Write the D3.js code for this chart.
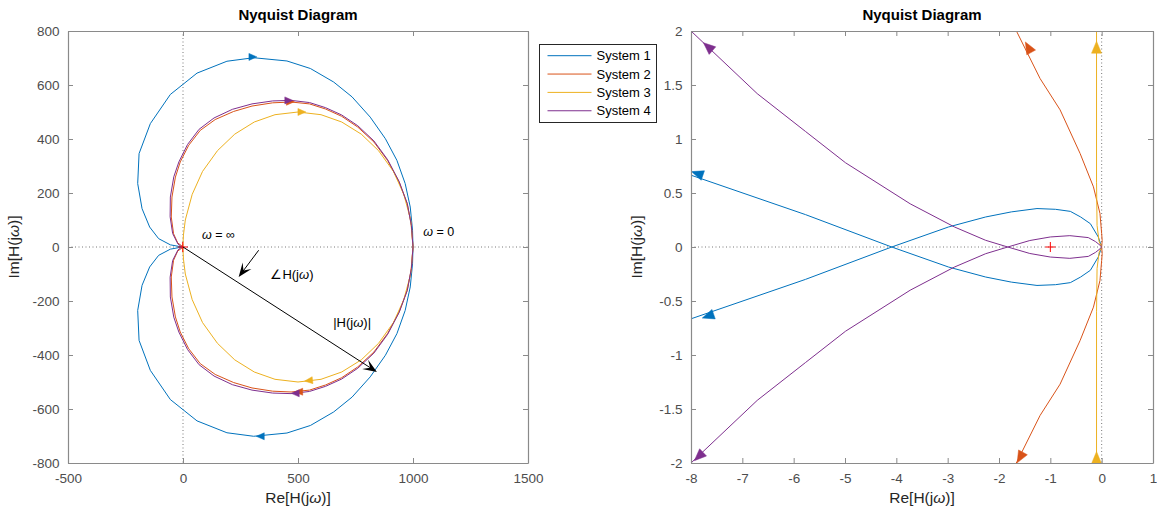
<!DOCTYPE html>
<html>
<head>
<meta charset="utf-8">
<script src="https://cdn.jsdelivr.net/npm/d3@7"></script>
<style>
  body { margin: 0; background: #fff; }
  svg text { font-family: "Liberation Sans", Arial, Helvetica, sans-serif; }
</style>
</head>
<body>
<div id="chart"></div>
<script>
// legend names
var systemNames = ["System 1", "System 2", "System 3", "System 4"];

// one branch of every Nyquist curve [Re, Im]
// (the other branch is its complex conjugate, drawn mirrored)
var system1 = [[0, 0], [-0.066, -0.093], [-0.22, -0.216], [-0.41, -0.278], [-0.61, -0.33], [-0.9, -0.349],
  [-1.26, -0.356], [-1.76, -0.325], [-2.26, -0.278], [-2.98, -0.186], [-4.09, 0], [-5.77, 0.30], [-8, 0.665],
  [-55, 8], [-106, 31], [-145, 74], [-178, 142], [-197, 235], [-191, 346], [-142, 457], [-55, 565], [61, 644],
  [191, 688], [307, 701], [452, 689], [554, 661], [655, 611], [735, 556], [814, 481], [880, 401], [930, 321],
  [966, 235], [988, 148], [998, 62], [1000, 0]];
var system2 = [[0, 0], [0.01, 0.06], [0, 0.124], [-0.033, 0.31], [-0.16, 0.557], [-0.42, 0.866], [-0.81, 1.27],
  [-1.2, 1.56], [-1.65, 1.99], [-23, 15], [-41, 49], [-51, 111], [-48, 185], [-33, 259], [-12, 315], [25, 377],
  [75, 432], [140, 472], [220, 502], [300, 522], [390, 534], [470, 537], [550, 530], [620, 511], [690, 484],
  [760, 444], [830, 389], [890, 320], [940, 240], [975, 160], [993, 80], [1000, 0]];
var system3 = [[0, 0], [-0.05, 0.05], [-0.09, 0.2], [-0.1, 0.6], [-0.1, 2.5], [-0.05, 5], [0, 10], [0.4, 20],
  [2, 45], [10, 100], [40, 195], [85, 280], [150, 357], [225, 418], [310, 463], [400, 490], [500, 500],
  [600, 490], [690, 463], [775, 418], [850, 357], [915, 280], [960, 195], [990, 100], [1000, 0]];
var system4 = [[0, 0], [-0.03, -0.016], [-0.12, -0.05], [-0.26, -0.087], [-0.62, -0.105], [-1.0, -0.093],
  [-1.4, -0.06], [-1.83, 0], [-2.26, 0.062], [-2.87, 0.186], [-3.73, 0.40], [-4.99, 0.78], [-5.77, 1.07],
  [-6.71, 1.42], [-8, 2.0], [-22, 11], [-45, 50], [-56, 112], [-55, 185], [-40, 260], [-18, 315], [20, 380],
  [70, 436], [135, 478], [215, 510], [300, 530], [390, 541], [470, 543], [550, 535], [620, 516], [690, 489],
  [760, 449], [830, 393], [890, 323], [940, 242], [975, 161], [993, 80], [1000, 0]];
var systems = [system1, system2, system3, system4];

// arrow heads: [system, Re, Im, dRe, dIm]
var arrowsLeft = [[0, 304, 704, 1, 0], [0, 336, -701, -1, 0],
  [1, 467, 538, 1, 0], [1, 503, -536, -1, 0],
  [2, 517, 500, 1, 0], [2, 546, -495, -1, -0.1],
  [3, 460, 543, 1, 0], [3, 488, -542, -1, 0]];
var arrowsRight = [[0, -7.88, 0.68, -1, 0.164], [0, -7.67, -0.64, -1, -0.164],
  [1, -1.43, 1.85, -0.84, 0.72], [1, -1.59, -1.95, -0.84, -0.72],
  [2, -0.1, 1.85, 0, 1], [2, -0.1, -1.95, 0, 1],
  [3, -7.67, 1.855, -1, 0.417], [3, -7.85, -1.94, -1, -0.45]];

// tick values
var xTicksLeft = [-500, 0, 500, 1000, 1500];
var yTicksLeft = [-800, -600, -400, -200, 0, 200, 400, 600, 800];
var xTicksRight = [-8, -7, -6, -5, -4, -3, -2, -1, 0, 1];
var yTicksRight = [-2, -1.5, -1, -0.5, 0, 0.5, 1, 1.5, 2];

// critical point
var critical = [-1, 0];

// annotations on the left plot (data units)
var annotationArrows = [[0, 0, 843, -463], [329, -12, 242, -111]];

var colors = ["#0072BD", "#D95319", "#EDB120", "#7E2F8E"];
var axisColor = "#8a8a8a";
var tickTextColor = "#4d4d4d";

var svg = d3.select("#chart")
  .append("svg")
  .attr("width", 1157)
  .attr("height", 514);

var leftPanel = {
  id: "left",
  x: d3.scaleLinear().domain([-500, 1500]).range([68, 528]),
  y: d3.scaleLinear().domain([-800, 800]).range([463, 31]),
  xTicks: xTicksLeft, yTicks: yTicksLeft,
  arrows: arrowsLeft, arrowLen: 8, arrowWid: 7
};
var rightPanel = {
  id: "right",
  x: d3.scaleLinear().domain([-8, 1]).range([691, 1153]),
  y: d3.scaleLinear().domain([-2, 2]).range([463, 31]),
  xTicks: xTicksRight, yTicks: yTicksRight,
  arrows: arrowsRight, arrowLen: 12, arrowWid: 10
};

function label(sel, before, after) {
  sel.append("tspan").text(before);
  sel.append("tspan").attr("font-style", "italic").text("\u03c9");
  sel.append("tspan").text(after);
}

function drawPanel(p) {
  var x0 = p.x.range()[0], x1 = p.x.range()[1];
  var y0 = p.y.range()[1], y1 = p.y.range()[0];
  var g = svg.append("g");

  g.append("clipPath").attr("id", "clip-" + p.id)
    .append("rect").attr("x", x0).attr("y", y0).attr("width", x1 - x0).attr("height", y1 - y0);

  // dotted zero lines
  g.append("line").attr("x1", x0).attr("x2", x1).attr("y1", p.y(0)).attr("y2", p.y(0))
    .attr("stroke", "#555").attr("stroke-width", 0.8).attr("stroke-dasharray", "1,2.5");
  g.append("line").attr("x1", p.x(0)).attr("x2", p.x(0)).attr("y1", y0).attr("y2", y1)
    .attr("stroke", "#555").attr("stroke-width", 0.8).attr("stroke-dasharray", "1,2.5");

  var plot = g.append("g").attr("clip-path", "url(#clip-" + p.id + ")");
  var line = d3.line()
    .x(function (d) { return p.x(d[0]); })
    .y(function (d) { return p.y(d[1]); });

  systems.forEach(function (s, i) {
    var mirror = s.map(function (d) { return [d[0], -d[1]]; });
    [s, mirror].forEach(function (branch) {
      plot.append("path")
        .attr("d", line(branch))
        .attr("fill", "none")
        .attr("stroke", colors[i])
        .attr("stroke-width", 1);
    });
  });

  // arrow heads
  p.arrows.forEach(function (a) {
    var cx = p.x(a[1]), cy = p.y(a[2]);
    var dx = p.x(a[1] + a[3]) - p.x(a[1]);
    var dy = p.y(a[2] + a[4]) - p.y(a[2]);
    var len = Math.sqrt(dx * dx + dy * dy);
    var ux = dx / len, uy = dy / len;
    var h = p.arrowLen / 2, w = p.arrowWid / 2;
    var pts = [
      [cx + ux * h, cy + uy * h],
      [cx - ux * h - uy * w, cy - uy * h + ux * w],
      [cx - ux * h + uy * w, cy - uy * h - ux * w]
    ];
    plot.append("path")
      .attr("d", "M" + pts.join("L") + "Z")
      .attr("fill", colors[a[0]])
      .attr("stroke", colors[a[0]])
      .attr("stroke-width", 0.5);
  });

  // critical point -1
  plot.append("path")
    .attr("d", "M" + (p.x(critical[0]) - 5) + "," + p.y(critical[1]) + "h10M" +
      p.x(critical[0]) + "," + (p.y(critical[1]) - 5) + "v10")
    .attr("stroke", "#ff0000").attr("stroke-width", 1);

  // axes (box with inward ticks)
  var fmt = function (d) { return String(d); };
  var axes = [
    [d3.axisBottom(p.x).tickValues(p.xTicks).tickFormat(fmt).tickPadding(10), y1, 0],
    [d3.axisTop(p.x).tickValues(p.xTicks).tickFormat(""), y0, 0],
    [d3.axisLeft(p.y).tickValues(p.yTicks).tickFormat(fmt).tickPadding(8.5), 0, x0],
    [d3.axisRight(p.y).tickValues(p.yTicks).tickFormat(""), 0, x1]
  ];
  axes.forEach(function (ax) {
    var a = g.append("g")
      .attr("transform", "translate(" + ax[2] + "," + ax[1] + ")")
      .call(ax[0].tickSizeInner(-5).tickSizeOuter(0));
    a.select(".domain").attr("stroke", axisColor).attr("stroke-width", 1.2);
    a.selectAll(".tick line").attr("stroke", axisColor).attr("stroke-width", 1);
    a.selectAll(".tick text")
      .attr("fill", tickTextColor)
      .attr("font-size", "13.5px")
      .attr("font-family", "Liberation Sans, Arial, sans-serif");
  });

  // title and axis labels
  g.append("text")
    .attr("x", (x0 + x1) / 2).attr("y", 20)
    .attr("text-anchor", "middle")
    .attr("font-size", "15px").attr("font-weight", "bold").attr("fill", "#000")
    .text("Nyquist Diagram");
  g.append("text")
    .attr("x", (x0 + x1) / 2).attr("y", 503)
    .attr("text-anchor", "middle")
    .attr("font-size", "15.5px").attr("fill", "#262626")
    .call(label, "Re[H(j", ")]");
  g.append("text")
    .attr("transform", "translate(" + (x0 - 49) + "," + ((y0 + y1) / 2) + ") rotate(-90)")
    .attr("text-anchor", "middle")
    .attr("font-size", "15.5px").attr("fill", "#262626")
    .call(label, "Im[H(j", ")]");
  return g;
}

drawPanel(leftPanel);
drawPanel(rightPanel);

// annotations on the left plot
var lx = leftPanel.x, ly = leftPanel.y;
var ann = svg.append("g");
annotationArrows.forEach(function (a) {
  var sx = lx(a[0]), sy = ly(a[1]), ex = lx(a[2]), ey = ly(a[3]);
  var dx = ex - sx, dy = ey - sy, len = Math.sqrt(dx * dx + dy * dy);
  var ux = dx / len, uy = dy / len;
  ann.append("line")
    .attr("x1", sx).attr("y1", sy).attr("x2", ex - ux * 6).attr("y2", ey - uy * 6)
    .attr("stroke", "#000").attr("stroke-width", 1);
  var L = 14, W = 5.5, N = 8;
  var head = [
    [ex, ey],
    [ex - ux * L - uy * W, ey - uy * L + ux * W],
    [ex - ux * N, ey - uy * N],
    [ex - ux * L + uy * W, ey - uy * L - ux * W]
  ];
  ann.append("path").attr("d", "M" + head.join("L") + "Z").attr("fill", "#000");
});

ann.append("text").attr("x", lx(83)).attr("y", ly(43) + 4)
  .attr("font-size", "12.5px").attr("fill", "#000")
  .call(label, "", " = \u221e");
ann.append("text").attr("x", lx(1045)).attr("y", ly(54) + 4)
  .attr("font-size", "12.5px").attr("fill", "#000")
  .call(label, "", " = 0");
ann.append("text").attr("x", lx(380)).attr("y", ly(-101) + 4.5)
  .attr("font-size", "13px").attr("fill", "#000")
  .call(label, "\u2220H(j", ")");
ann.append("text").attr("x", lx(653)).attr("y", ly(-279) + 4.5)
  .attr("font-size", "13px").attr("fill", "#000")
  .call(label, "|H(j", ")|");

// legend
var legend = svg.append("g").attr("transform", "translate(539.5,44.5)");
legend.append("rect")
  .attr("width", 117).attr("height", 78)
  .attr("fill", "#fff").attr("stroke", "#262626").attr("stroke-width", 1);
systemNames.forEach(function (name, i) {
  var yy = 11.2 + i * 18.35;
  legend.append("line")
    .attr("x1", 8).attr("x2", 52).attr("y1", yy).attr("y2", yy)
    .attr("stroke", colors[i]).attr("stroke-width", 1);
  legend.append("text")
    .attr("x", 57).attr("y", yy + 4.6)
    .attr("font-size", "13px").attr("fill", "#000")
    .text(name);
});
</script>
</body>
</html>
